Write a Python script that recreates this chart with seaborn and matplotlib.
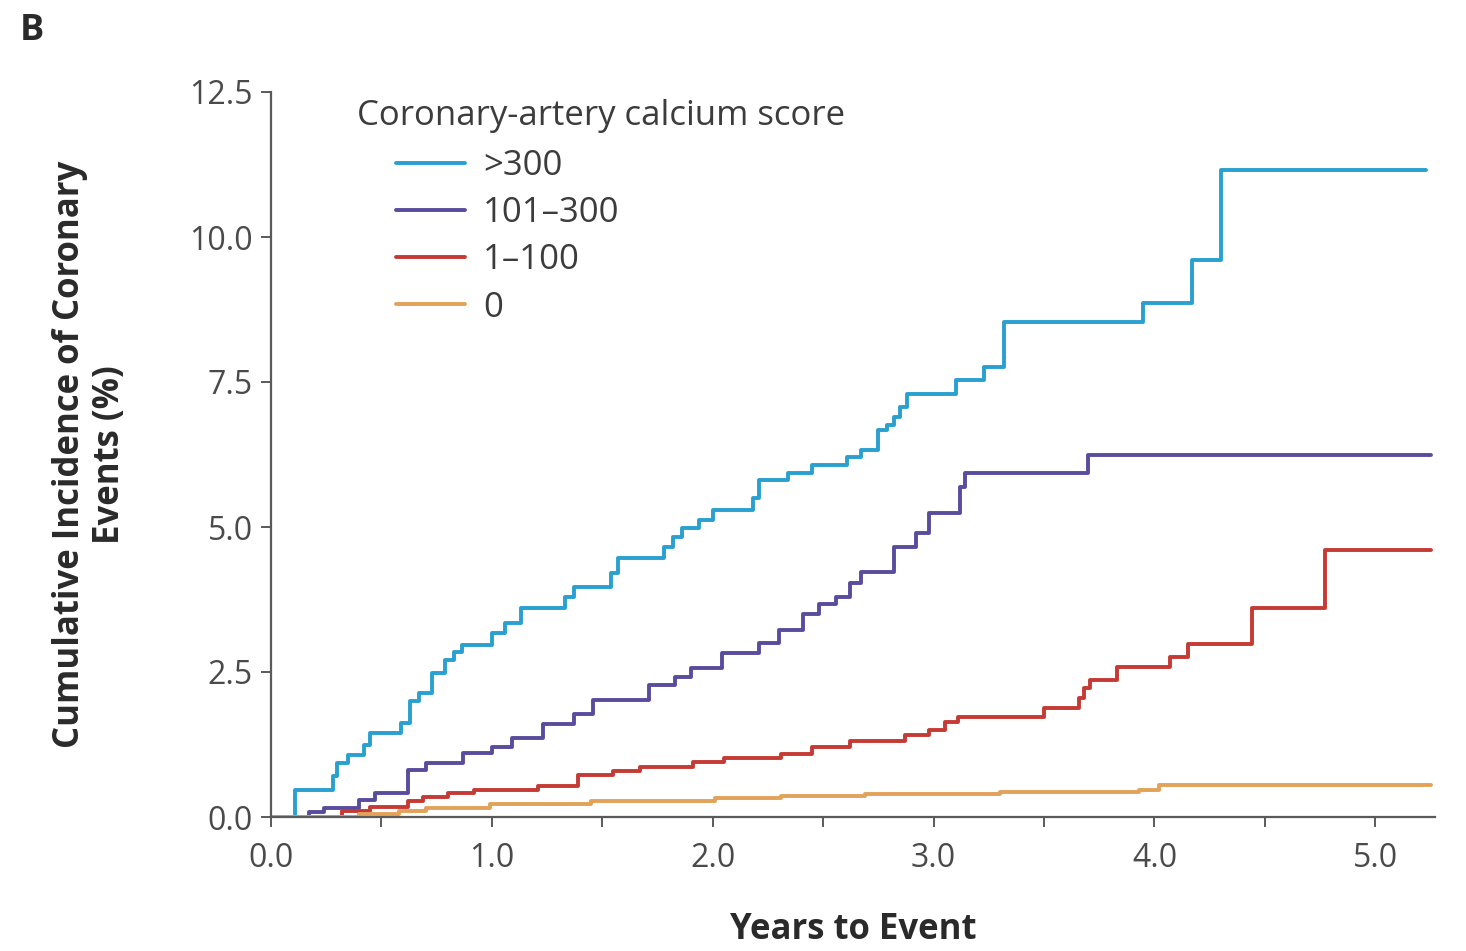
import matplotlib
matplotlib.use("Agg")
import matplotlib.pyplot as plt
from matplotlib.ticker import MultipleLocator, FormatStrFormatter
import pandas as pd
import seaborn as sns

# Coronary-artery calcium score groups, in legend order
groups = [">300", "101\u2013300", "1\u2013100", "0"]
colors = ["#29a0cf", "#5a4c9c", "#c53a34", "#e3a25a"]

# Event times (years) and cumulative incidence (%) after each step
t_gt300 = [0.11, 0.28, 0.30, 0.35, 0.42, 0.45, 0.59, 0.63, 0.67, 0.73, 0.79, 0.83,
           0.865, 1.00, 1.06, 1.13, 1.33, 1.37, 1.54, 1.57, 1.78, 1.82, 1.86, 1.94,
           2.00, 2.18, 2.21, 2.34, 2.45, 2.61, 2.67, 2.75, 2.79, 2.82, 2.85, 2.88,
           3.10, 3.23, 3.32, 3.95, 4.17, 4.30]
y_gt300 = [0.47, 0.70, 0.93, 1.07, 1.25, 1.45, 1.62, 2.00, 2.13, 2.48, 2.70, 2.85,
           2.97, 3.17, 3.35, 3.60, 3.80, 3.97, 4.20, 4.47, 4.65, 4.83, 4.98, 5.12,
           5.30, 5.50, 5.81, 5.93, 6.07, 6.20, 6.33, 6.67, 6.76, 6.90, 7.07, 7.30,
           7.53, 7.76, 8.53, 8.86, 9.60, 11.15]

t_101_300 = [0.17, 0.24, 0.40, 0.47, 0.62, 0.70, 0.87, 1.00, 1.09, 1.23, 1.37, 1.46,
             1.71, 1.83, 1.90, 2.04, 2.21, 2.30, 2.41, 2.48, 2.56, 2.62, 2.67, 2.82,
             2.92, 2.98, 3.12, 3.14, 3.70]
y_101_300 = [0.08, 0.15, 0.29, 0.41, 0.81, 0.93, 1.10, 1.20, 1.36, 1.60, 1.77, 2.02,
             2.28, 2.41, 2.57, 2.83, 3.00, 3.22, 3.50, 3.68, 3.80, 4.03, 4.22, 4.66,
             4.90, 5.24, 5.69, 5.93, 6.24]

t_1_100 = [0.32, 0.45, 0.62, 0.69, 0.80, 0.92, 1.21, 1.39, 1.55, 1.67, 1.91, 2.05,
           2.31, 2.45, 2.62, 2.87, 2.98, 3.05, 3.11, 3.50, 3.66, 3.68, 3.71, 3.83,
           4.07, 4.15, 4.44, 4.77]
y_1_100 = [0.10, 0.17, 0.27, 0.35, 0.41, 0.47, 0.53, 0.72, 0.79, 0.86, 0.95, 1.02,
           1.08, 1.21, 1.31, 1.41, 1.50, 1.64, 1.72, 1.88, 2.05, 2.22, 2.36, 2.59,
           2.76, 2.98, 3.60, 4.60]

t_zero = [0.40, 0.58, 0.70, 0.99, 1.45, 2.01, 2.31, 2.69, 3.30, 3.93, 4.02]
y_zero = [0.05, 0.10, 0.15, 0.22, 0.27, 0.32, 0.36, 0.40, 0.43, 0.47, 0.55]

# Last follow-up time (years) of each group
followup_end = [5.23, 5.25, 5.25, 5.25]

step_times = [t_gt300, t_101_300, t_1_100, t_zero]
step_values = [y_gt300, y_101_300, y_1_100, y_zero]

# Long table: every curve starts at (0, 0) and holds its last value to end of follow-up
rows = []
for name, ts, ys, t_end in zip(groups, step_times, step_values, followup_end):
    xs = [0.0] + ts + [t_end]
    vs = [0.0] + ys + [ys[-1]]
    rows += [{"years": x, "incidence": v, "group": name} for x, v in zip(xs, vs)]
df = pd.DataFrame(rows)

sns.set_style("ticks")
plt.rcParams["font.family"] = ["Open Sans", "DejaVu Sans"]

fig = plt.figure(figsize=(14.66, 9.51), dpi=100)
ax = fig.add_axes([271 / 1466, 1 - 817 / 951, (1435 - 271) / 1466, (817 - 92) / 951])

sns.lineplot(data=df, x="years", y="incidence", hue="group", hue_order=groups,
             palette=dict(zip(groups, colors)), estimator=None, sort=False,
             drawstyle="steps-post", linewidth=2.8, ax=ax, legend=True)

ax.set_xlim(0, 5.27)
ax.set_ylim(0, 12.5)
ax.xaxis.set_major_locator(MultipleLocator(1.0))
ax.xaxis.set_minor_locator(MultipleLocator(0.5))
ax.xaxis.set_major_formatter(FormatStrFormatter("%.1f"))
ax.yaxis.set_major_locator(MultipleLocator(2.5))
ax.yaxis.set_major_formatter(FormatStrFormatter("%.1f"))

axis_grey = "#5a5a5a"
for side in ("top", "right"):
    ax.spines[side].set_visible(False)
for side in ("left", "bottom"):
    ax.spines[side].set_color(axis_grey)
    ax.spines[side].set_linewidth(1.6)

ax.tick_params(axis="both", which="both", direction="out", length=7, width=1.4,
               color=axis_grey, labelsize=23, labelcolor="#4a4a4a", pad=6)
ax.tick_params(axis="x", which="both", pad=11)

ax.set_xlabel("Years to Event", fontsize=25, fontweight="bold", color="#2a2a2a")
ax.xaxis.set_label_coords(0.5, -0.131)
ax.set_ylabel("Cumulative Incidence of Coronary\nEvents (%)", fontsize=25,
              fontweight="bold", color="#2a2a2a", linespacing=1.15)
ax.yaxis.set_label_coords(-0.123, 0.5)

handles, labels = ax.get_legend_handles_labels()
for h in handles:
    h.set_linewidth(2.8)
ax.legend(handles, labels, loc="upper left",
          bbox_to_anchor=(396 / 1466, 1 - 149 / 951), bbox_transform=fig.transFigure,
          frameon=False, fontsize=25, handlelength=2.0, handletextpad=0.5,
          labelspacing=0.38, borderpad=0, borderaxespad=0, labelcolor="#3c3c3c")
fig.text(357 / 1466, 1 - 116 / 951, "Coronary-artery calcium score", fontsize=25,
         color="#3c3c3c", va="center", ha="left")

fig.text(20 / 1466, 1 - 13 / 951, "B", fontsize=26, fontweight="bold",
         color="#2a2a2a", va="top", ha="left")

fig.savefig("out.png", dpi=100)
